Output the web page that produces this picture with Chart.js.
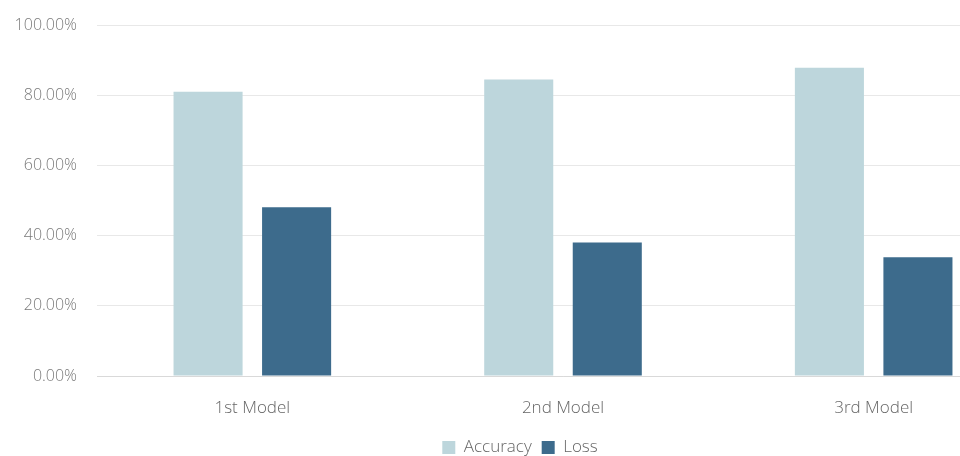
<!DOCTYPE html>
<html>
<head>
<meta charset="utf-8">
<script src="https://cdn.jsdelivr.net/npm/chart.js@4/dist/chart.umd.min.js"></script>
<style>
  html, body { margin: 0; padding: 0; background: #ffffff; }
  #frame { width: 960px; height: 456px; overflow: hidden; position: relative; }
  #chart { position: absolute; left: 0; top: 0; }
</style>
</head>
<body>
<div id="frame"><canvas id="chart" width="1060" height="466"></canvas></div>
<script>
// Model comparison: accuracy vs loss (percent)
const categories = ['1st Model', '2nd Model', '3rd Model'];
const accuracy = [81.0, 84.5, 87.8];
const loss = [48.1, 38.0, 33.8];
const seriesNames = ['Accuracy', 'Loss'];

const textFont = '"Open Sans", "Noto Sans", sans-serif';

new Chart(document.getElementById('chart'), {
  type: 'bar',
  data: {
    labels: categories,
    datasets: [
      {
        label: seriesNames[0],
        data: accuracy,
        backgroundColor: '#bdd6dc',
        categoryPercentage: 0.57,
        barPercentage: 0.78
      },
      {
        label: seriesNames[1],
        data: loss,
        backgroundColor: '#3d6b8c',
        categoryPercentage: 0.57,
        barPercentage: 0.78
      }
    ]
  },
  options: {
    responsive: false,
    animation: false,
    devicePixelRatio: 1,
    layout: { padding: { left: 11, right: 31, top: 25, bottom: 0 } },
    plugins: {
      tooltip: { enabled: false },
      legend: {
        position: 'bottom',
        labels: {
          boxWidth: 13,
          boxHeight: 13,
          padding: 10,
          color: '#666666',
          font: { family: textFont, size: 17, weight: 300 }
        }
      }
    },
    scales: {
      x: {
        afterFit: (scale) => { scale.height = 53; },
        grid: { display: false, drawTicks: false },
        border: { display: true, color: '#d9d9d9', width: 1 },
        ticks: {
          color: '#666666',
          padding: 22,
          font: { family: textFont, size: 17, weight: 300 }
        }
      },
      y: {
        min: 0,
        max: 100,
        afterFit: (scale) => {
          scale.width = 86;
          scale.paddingTop = 0;
          scale.paddingBottom = 0;
        },
        grid: { color: '#e8e8e8', drawTicks: false },
        border: { display: false },
        ticks: {
          stepSize: 20,
          padding: 20,
          color: '#7a7a7a',
          font: { family: textFont, size: 16, weight: 300 },
          callback: (v) => v.toFixed(2) + '%'
        }
      }
    }
  }
});
</script>
</body>
</html>
